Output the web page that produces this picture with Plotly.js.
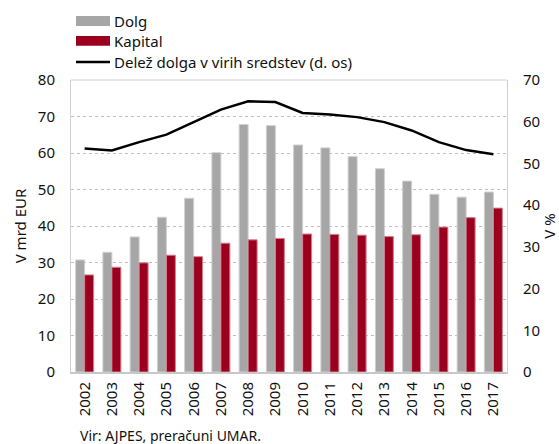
<!DOCTYPE html>
<html>
<head>
<meta charset="utf-8">
<script src="https://cdn.plot.ly/plotly-3.0.1.min.js"></script>
<style>body{margin:0;padding:0;background:#fff}#chart{width:559px;height:444px}</style>
</head>
<body>
<div id="chart"></div>
<script>
const years = ['2002','2003','2004','2005','2006','2007','2008','2009','2010','2011','2012','2013','2014','2015','2016','2017'];
const dolg = [30.7,32.8,37.0,42.4,47.6,60.1,67.8,67.5,62.2,61.4,59.0,55.7,52.3,48.7,47.9,49.3];
const kapital = [26.6,28.7,29.9,32.0,31.6,35.3,36.2,36.6,37.8,37.7,37.5,37.1,37.6,39.7,42.3,44.9];
const delez = [53.6,53.1,55.1,56.9,59.9,62.9,64.9,64.7,62.1,61.7,61.1,59.9,57.9,55.1,53.2,52.2];
const names = ['Dolg','Kapital','Delež dolga v virih sredstev (d. os)'];

const FONT = 'Noto Sans, Open Sans, sans-serif';
const traces = [
  {type:'bar', x:years, y:dolg, name:names[0], marker:{color:'#a6a6a6', line:{color:'#d0d0d0', width:1}}, xaxis:'x', yaxis:'y'},
  {type:'bar', x:years, y:kapital, name:names[1], marker:{color:'#9c001f', line:{color:'#d08090', width:1}}, xaxis:'x', yaxis:'y'},
  {type:'scatter', mode:'lines', x:years, y:delez, name:names[2], line:{color:'#000', width:2.5}, xaxis:'x', yaxis:'y2'}
];

const legY = [1.202, 1.134, 1.062];
const legColors = ['#a6a6a6','#9c001f','#000'];
const shapes = [];
const annotations = [];
for (let i=0;i<3;i++){
  const yc = legY[i];
  if (i<2) {
    shapes.push({type:'rect', xref:'paper', yref:'paper', x0:(76-71)/436, x1:(110-71)/436, y0:yc-0.017, y1:yc+0.017, fillcolor:legColors[i], line:{width:0}});
  } else {
    shapes.push({type:'line', xref:'paper', yref:'paper', x0:(76-71)/436, x1:(110-71)/436, y0:yc, y1:yc, line:{color:'#000', width:2.5}});
  }
  annotations.push({xref:'paper', yref:'paper', x:(112-71)/436, y:yc, xanchor:'left', yanchor:'middle', text:names[i], showarrow:false, font:{family:FONT, size:15, color:'#111'}});
}
annotations.push({xref:'paper', yref:'paper', x:(78-71)/436, y:-0.219, xanchor:'left', yanchor:'middle', text:'Vir: AJPES, preračuni UMAR.', showarrow:false, font:{family:FONT, size:14, color:'#111'}});

const layout = {
  width:559, height:444,
  margin:{l:71, r:52, t:80, b:72, pad:0},
  paper_bgcolor:'#fff', plot_bgcolor:'#fff',
  showlegend:false,
  barmode:'group', bargap:0.34, bargroupgap:0,
  font:{family:FONT, size:15, color:'#111'},
  xaxis:{type:'category', tickangle:-90, showgrid:false, showline:true, linecolor:'#c8c8c8', linewidth:2, ticks:'', tickfont:{size:15}, ticklabelstandoff:2, fixedrange:true},
  yaxis:{range:[0,80], dtick:10, showgrid:true, gridcolor:'#bfbfbf', griddash:'dot', gridwidth:1, showline:true, linecolor:'#d0d0d0', linewidth:1, ticks:'', tickfont:{size:15}, ticklabelstandoff:12, title:{text:'V mrd EUR', font:{size:15}, standoff:7}, zeroline:false},
  yaxis2:{range:[0,70], dtick:10, overlaying:'y', side:'right', showgrid:false, showline:true, linecolor:'#d0d0d0', linewidth:1, ticks:'', tickfont:{size:15}, ticklabelstandoff:12, title:{text:'V %', font:{size:15}, standoff:20}, zeroline:false},
  shapes: shapes.concat([{type:'line', xref:'paper', yref:'paper', x0:0, x1:1, y0:1, y1:1, line:{color:'#d0d0d0', width:1}}]),
  annotations: annotations
};
Plotly.newPlot('chart', traces, layout, {displayModeBar:false, staticPlot:true});
</script>
</body>
</html>
